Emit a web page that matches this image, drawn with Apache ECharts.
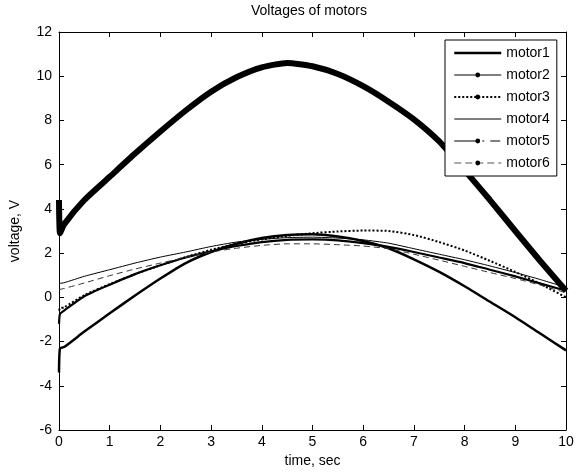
<!DOCTYPE html>
<html>
<head>
<meta charset="utf-8">
<script src="https://cdn.jsdelivr.net/npm/echarts@6/dist/echarts.min.js"></script>
<style>
  html, body { margin: 0; padding: 0; background: #fff; }
  #chart { width: 579px; height: 473px; }
</style>
</head>
<body>
<div id="chart"></div>
<script>
// time samples, sec
const timeSec = [0, 0.02, 0.1, 0.5, 1, 1.5, 2, 2.5, 3, 3.5, 4, 4.5, 5, 5.5, 6, 6.5, 7, 7.5, 8, 8.5, 9, 9.5, 10];

// voltages
const motor1 = [-3.4, -2.3, -2.25, -1.55, -0.72, 0.08, 0.85, 1.55, 2.05, 2.42, 2.68, 2.82, 2.85, 2.75, 2.55, 2.22, 1.72, 1.15, 0.5, -0.2, -0.9, -1.65, -2.4];
const motor2 = [4.4, 2.9, 3.3, 4.4, 5.45, 6.5, 7.5, 8.45, 9.3, 9.95, 10.4, 10.6, 10.45, 10.1, 9.55, 8.85, 8.05, 7.05, 5.75, 4.4, 3.0, 1.62, 0.3];
const motor3 = [-0.6, -0.5, -0.45, 0.1, 0.6, 1.05, 1.45, 1.82, 2.15, 2.42, 2.62, 2.78, 2.9, 2.98, 3.02, 3.0, 2.82, 2.5, 2.12, 1.65, 1.15, 0.6, 0.0];
const motor4 = [0.62, 0.63, 0.66, 0.95, 1.25, 1.55, 1.82, 2.05, 2.3, 2.5, 2.62, 2.7, 2.72, 2.68, 2.6, 2.45, 2.2, 1.95, 1.7, 1.42, 1.12, 0.8, 0.45];
const motor5 = [-1.2, -0.75, -0.6, 0.05, 0.57, 1.05, 1.45, 1.8, 2.08, 2.32, 2.5, 2.6, 2.62, 2.58, 2.45, 2.28, 2.05, 1.8, 1.55, 1.25, 0.95, 0.62, 0.3];
const motor6 = [0.35, 0.36, 0.4, 0.65, 0.98, 1.28, 1.55, 1.8, 2.05, 2.22, 2.35, 2.42, 2.42, 2.38, 2.32, 2.2, 1.95, 1.68, 1.4, 1.12, 0.85, 0.55, 0.2];

const motorNames = ["motor1", "motor2", "motor3", "motor4", "motor5", "motor6"];
const xTicks = [0, 1, 2, 3, 4, 5, 6, 7, 8, 9, 10];
const yTicks = [-6, -4, -2, 0, 2, 4, 6, 8, 10, 12];

const font = '"Liberation Sans", Arial, sans-serif';

function pairs(vals) {
  return timeSec.map((t, i) => [t, vals[i]]);
}

// line look in the plot
const plotStyles = [
  { width: 2.5, type: "solid", color: "#000" },
  { width: 6, type: "solid", color: "#000" },
  { width: 2, type: [2, 2], color: "#000" },
  { width: 1, type: "solid", color: "#000" },
  { width: 2.2, type: "solid", color: "#000" },
  { width: 1, type: [6, 4], color: "#333" },
];
// line look in the legend
const legendStyles = [
  { line: { width: 2.5, type: "solid" }, dot: false },
  { line: { width: 1, type: "solid" }, dot: true },
  { line: { width: 2, type: [2, 2] }, dot: true },
  { line: { width: 1, type: "solid" }, dot: false },
  { line: { width: 1, type: [22, 6, 2, 6, 10] }, dot: true },
  { line: { width: 1, type: [7, 4], color: "#555" }, dot: true },
];

const seriesData = [motor1, motor2, motor3, motor4, motor5, motor6];

const series = seriesData.map((vals, i) => ({
  name: motorNames[i],
  type: "line",
  xAxisIndex: 0,
  yAxisIndex: 0,
  data: pairs(vals),
  symbol: "circle",
  showSymbol: false,
  smooth: 0.2,
  lineStyle: plotStyles[i],
  itemStyle: { color: "#000" },
  emphasis: { disabled: true },
  z: 2,
}));

const axisCommon = {
  axisLine: { show: true, onZero: false, lineStyle: { color: "#000", width: 1 } },
  axisTick: { show: true, inside: true, length: 5, lineStyle: { color: "#000" } },
  splitLine: { show: false },
};

const option = {
  animation: false,
  backgroundColor: "#fff",
  title: {
    text: "Voltages of motors",
    left: 251,
    top: 4,
    padding: 0,
    textStyle: { fontFamily: font, fontSize: 14, fontWeight: "normal", color: "#000" },
  },
  grid: { left: 59, right: 13, top: 32, bottom: 41, containLabel: false },
  legend: {
    orient: "vertical",
    left: 445,
    top: 40,
    padding: [6, 7, 6, 8],
    itemWidth: 47,
    itemHeight: 6,
    itemGap: 8,
    backgroundColor: "#fff",
    borderColor: "#000",
    borderWidth: 1,
    borderRadius: 0,
    textStyle: { fontFamily: font, fontSize: 14, color: "#000", lineHeight: 14 },
    data: motorNames.map((n, i) => ({
      name: n,
      lineStyle: Object.assign({ color: "#000" }, legendStyles[i].line),
      itemStyle: { color: "#000", opacity: legendStyles[i].dot ? 1 : 0 },
    })),
    selectedMode: false,
    z: 10,
  },
  xAxis: [
    Object.assign({}, axisCommon, {
      type: "value",
      position: "bottom",
      min: 0,
      max: 10,
      interval: 1,
      name: "time, sec",
      nameLocation: "middle",
      nameGap: 24,
      nameTextStyle: { fontFamily: font, fontSize: 14, color: "#000" },
      axisLabel: {
        fontFamily: font,
        fontSize: 14,
        color: "#000",
        margin: 5,
        formatter: (v) => (xTicks.indexOf(v) >= 0 ? String(v) : ""),
      },
    }),
    Object.assign({}, axisCommon, {
      type: "value",
      position: "top",
      min: 0,
      max: 10,
      interval: 1,
      axisLabel: { show: false },
    }),
  ],
  yAxis: [
    Object.assign({}, axisCommon, {
      type: "value",
      position: "left",
      min: -6,
      max: 12,
      interval: 2,
      name: "voltage, V",
      nameLocation: "middle",
      nameGap: 37,
      nameRotate: 90,
      nameTextStyle: { fontFamily: font, fontSize: 14, color: "#000" },
      axisLabel: {
        fontFamily: font,
        fontSize: 14,
        color: "#000",
        margin: 7,
        formatter: (v) => (yTicks.indexOf(v) >= 0 ? String(v) : ""),
      },
    }),
    Object.assign({}, axisCommon, {
      type: "value",
      position: "right",
      min: -6,
      max: 12,
      interval: 2,
      axisLabel: { show: false },
    }),
  ],
  series: series,
};

const chart = echarts.init(document.getElementById("chart"), null, { renderer: "canvas" });
chart.setOption(option);
</script>
</body>
</html>
